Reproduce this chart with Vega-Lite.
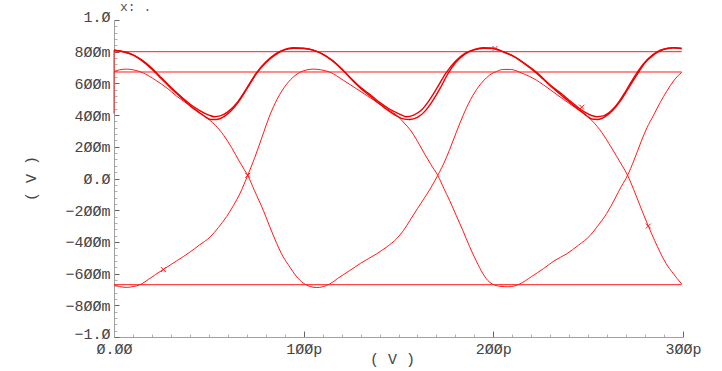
{
  "$schema": "https://vega.github.io/schema/vega-lite/v6.json",
  "width": 569,
  "height": 317,
  "autosize": {"type": "none"},
  "padding": {"left": 114, "top": 20, "right": 39, "bottom": 34},
  "background": "white",
  "config": {"view": {"stroke": null}, "font": "Liberation Mono"},
  "title": {"text": "x:  .", "anchor": "start", "frame": "group", "font": "Liberation Mono", "fontSize": 13, "fontWeight": "normal", "color": "#555", "offset": 4, "dx": 6, "dy": 9},
  "datasets": {
    "curves": [
      {"trace": "H1", "time_ps": 0, "volts": 0.8}, {"trace": "H1", "time_ps": 299.3, "volts": 0.8},
      {"trace": "H2", "time_ps": 0, "volts": 0.672}, {"trace": "H2", "time_ps": 299.3, "volts": 0.672},
      {"trace": "H3", "time_ps": 0, "volts": -0.67}, {"trace": "H3", "time_ps": 299.3, "volts": -0.67},
      {"trace": "W", "time_ps": 0, "volts": 0.81}, {"trace": "W", "time_ps": 0, "volts": 0.41},
      {"trace": "M", "time_ps": 26, "volts": -0.574}, {"trace": "M", "time_ps": 70.5, "volts": 0.02}, {"trace": "M", "time_ps": 281.7, "volts": -0.3}, {"trace": "M", "time_ps": 246.6, "volts": 0.45}, {"trace": "M", "time_ps": 200.9, "volts": 0.82},
      {"trace": "A1", "time_ps": 0, "volts": 0.81}, {"trace": "A1", "time_ps": 5, "volts": 0.8}, {"trace": "A1", "time_ps": 10, "volts": 0.78}, {"trace": "A1", "time_ps": 15, "volts": 0.745}, {"trace": "A1", "time_ps": 20, "volts": 0.695}, {"trace": "A1", "time_ps": 25, "volts": 0.635}, {"trace": "A1", "time_ps": 30, "volts": 0.575}, {"trace": "A1", "time_ps": 35, "volts": 0.52}, {"trace": "A1", "time_ps": 40, "volts": 0.47}, {"trace": "A1", "time_ps": 45, "volts": 0.43}, {"trace": "A1", "time_ps": 50, "volts": 0.4}, {"trace": "A1", "time_ps": 53, "volts": 0.39}, {"trace": "A1", "time_ps": 56, "volts": 0.395}, {"trace": "A1", "time_ps": 60, "volts": 0.42}, {"trace": "A1", "time_ps": 65, "volts": 0.48}, {"trace": "A1", "time_ps": 70, "volts": 0.57}, {"trace": "A1", "time_ps": 75, "volts": 0.665}, {"trace": "A1", "time_ps": 80, "volts": 0.735}, {"trace": "A1", "time_ps": 85, "volts": 0.785}, {"trace": "A1", "time_ps": 90, "volts": 0.815}, {"trace": "A1", "time_ps": 94.5, "volts": 0.825}, {"trace": "A1", "time_ps": 100, "volts": 0.822}, {"trace": "A1", "time_ps": 105, "volts": 0.81}, {"trace": "A1", "time_ps": 110, "volts": 0.785}, {"trace": "A1", "time_ps": 115, "volts": 0.745}, {"trace": "A1", "time_ps": 121, "volts": 0.68}, {"trace": "A1", "time_ps": 126, "volts": 0.62}, {"trace": "A1", "time_ps": 130, "volts": 0.575}, {"trace": "A1", "time_ps": 135, "volts": 0.53}, {"trace": "A1", "time_ps": 140, "volts": 0.48}, {"trace": "A1", "time_ps": 145, "volts": 0.44}, {"trace": "A1", "time_ps": 150, "volts": 0.41}, {"trace": "A1", "time_ps": 154, "volts": 0.39}, {"trace": "A1", "time_ps": 158, "volts": 0.4}, {"trace": "A1", "time_ps": 162, "volts": 0.43}, {"trace": "A1", "time_ps": 166, "volts": 0.49}, {"trace": "A1", "time_ps": 170, "volts": 0.565}, {"trace": "A1", "time_ps": 175, "volts": 0.665}, {"trace": "A1", "time_ps": 180, "volts": 0.74}, {"trace": "A1", "time_ps": 185, "volts": 0.79}, {"trace": "A1", "time_ps": 190, "volts": 0.815}, {"trace": "A1", "time_ps": 194.7, "volts": 0.825}, {"trace": "A1", "time_ps": 200, "volts": 0.822}, {"trace": "A1", "time_ps": 205, "volts": 0.8}, {"trace": "A1", "time_ps": 210, "volts": 0.775}, {"trace": "A1", "time_ps": 216, "volts": 0.73}, {"trace": "A1", "time_ps": 222.8, "volts": 0.67}, {"trace": "A1", "time_ps": 230, "volts": 0.59}, {"trace": "A1", "time_ps": 236.9, "volts": 0.525}, {"trace": "A1", "time_ps": 243, "volts": 0.465}, {"trace": "A1", "time_ps": 248, "volts": 0.42}, {"trace": "A1", "time_ps": 254.5, "volts": 0.39}, {"trace": "A1", "time_ps": 258, "volts": 0.395}, {"trace": "A1", "time_ps": 262, "volts": 0.425}, {"trace": "A1", "time_ps": 266, "volts": 0.48}, {"trace": "A1", "time_ps": 270, "volts": 0.555}, {"trace": "A1", "time_ps": 275.6, "volts": 0.665}, {"trace": "A1", "time_ps": 280, "volts": 0.735}, {"trace": "A1", "time_ps": 284, "volts": 0.78}, {"trace": "A1", "time_ps": 288, "volts": 0.81}, {"trace": "A1", "time_ps": 292, "volts": 0.822}, {"trace": "A1", "time_ps": 295, "volts": 0.825}, {"trace": "A1", "time_ps": 299.3, "volts": 0.82},
      {"trace": "A2", "time_ps": 0, "volts": 0.81}, {"trace": "A2", "time_ps": 5, "volts": 0.8}, {"trace": "A2", "time_ps": 10, "volts": 0.78}, {"trace": "A2", "time_ps": 15, "volts": 0.74}, {"trace": "A2", "time_ps": 20, "volts": 0.69}, {"trace": "A2", "time_ps": 25, "volts": 0.63}, {"trace": "A2", "time_ps": 30, "volts": 0.57}, {"trace": "A2", "time_ps": 35, "volts": 0.515}, {"trace": "A2", "time_ps": 40, "volts": 0.46}, {"trace": "A2", "time_ps": 45, "volts": 0.415}, {"trace": "A2", "time_ps": 48, "volts": 0.39}, {"trace": "A2", "time_ps": 51, "volts": 0.372}, {"trace": "A2", "time_ps": 54, "volts": 0.372}, {"trace": "A2", "time_ps": 58, "volts": 0.39}, {"trace": "A2", "time_ps": 62, "volts": 0.43}, {"trace": "A2", "time_ps": 66, "volts": 0.49}, {"trace": "A2", "time_ps": 70, "volts": 0.565}, {"trace": "A2", "time_ps": 75, "volts": 0.66}, {"trace": "A2", "time_ps": 80, "volts": 0.73}, {"trace": "A2", "time_ps": 85, "volts": 0.78}, {"trace": "A2", "time_ps": 90, "volts": 0.812}, {"trace": "A2", "time_ps": 94.5, "volts": 0.822}, {"trace": "A2", "time_ps": 100, "volts": 0.82}, {"trace": "A2", "time_ps": 105, "volts": 0.81}, {"trace": "A2", "time_ps": 110, "volts": 0.785}, {"trace": "A2", "time_ps": 115, "volts": 0.745}, {"trace": "A2", "time_ps": 121, "volts": 0.68}, {"trace": "A2", "time_ps": 126, "volts": 0.615}, {"trace": "A2", "time_ps": 130, "volts": 0.57}, {"trace": "A2", "time_ps": 135, "volts": 0.52}, {"trace": "A2", "time_ps": 140, "volts": 0.47}, {"trace": "A2", "time_ps": 145, "volts": 0.425}, {"trace": "A2", "time_ps": 149, "volts": 0.395}, {"trace": "A2", "time_ps": 152, "volts": 0.378}, {"trace": "A2", "time_ps": 156, "volts": 0.372}, {"trace": "A2", "time_ps": 160, "volts": 0.385}, {"trace": "A2", "time_ps": 164, "volts": 0.425}, {"trace": "A2", "time_ps": 168, "volts": 0.49}, {"trace": "A2", "time_ps": 172, "volts": 0.57}, {"trace": "A2", "time_ps": 176, "volts": 0.66}, {"trace": "A2", "time_ps": 180, "volts": 0.73}, {"trace": "A2", "time_ps": 185, "volts": 0.785}, {"trace": "A2", "time_ps": 190, "volts": 0.812}, {"trace": "A2", "time_ps": 194.7, "volts": 0.822}, {"trace": "A2", "time_ps": 200, "volts": 0.82}, {"trace": "A2", "time_ps": 205, "volts": 0.8}, {"trace": "A2", "time_ps": 210, "volts": 0.775}, {"trace": "A2", "time_ps": 216, "volts": 0.728}, {"trace": "A2", "time_ps": 222.8, "volts": 0.665}, {"trace": "A2", "time_ps": 230, "volts": 0.585}, {"trace": "A2", "time_ps": 236.9, "volts": 0.515}, {"trace": "A2", "time_ps": 243, "volts": 0.455}, {"trace": "A2", "time_ps": 248, "volts": 0.408}, {"trace": "A2", "time_ps": 251.9, "volts": 0.375}, {"trace": "A2", "time_ps": 255, "volts": 0.372}, {"trace": "A2", "time_ps": 259, "volts": 0.39}, {"trace": "A2", "time_ps": 263, "volts": 0.43}, {"trace": "A2", "time_ps": 267, "volts": 0.49}, {"trace": "A2", "time_ps": 271, "volts": 0.565}, {"trace": "A2", "time_ps": 276, "volts": 0.66}, {"trace": "A2", "time_ps": 280, "volts": 0.73}, {"trace": "A2", "time_ps": 284, "volts": 0.775}, {"trace": "A2", "time_ps": 288, "volts": 0.805}, {"trace": "A2", "time_ps": 292, "volts": 0.82}, {"trace": "A2", "time_ps": 295, "volts": 0.825}, {"trace": "A2", "time_ps": 299.3, "volts": 0.82},
      {"trace": "F", "time_ps": 0, "volts": 0.675}, {"trace": "F", "time_ps": 3, "volts": 0.686}, {"trace": "F", "time_ps": 6.7, "volts": 0.69}, {"trace": "F", "time_ps": 10, "volts": 0.686}, {"trace": "F", "time_ps": 15, "volts": 0.668}, {"trace": "F", "time_ps": 22, "volts": 0.62}, {"trace": "F", "time_ps": 28, "volts": 0.57}, {"trace": "F", "time_ps": 33, "volts": 0.52}, {"trace": "F", "time_ps": 40, "volts": 0.46}, {"trace": "F", "time_ps": 47, "volts": 0.4}, {"trace": "F", "time_ps": 53.5, "volts": 0.335}, {"trace": "F", "time_ps": 58, "volts": 0.27}, {"trace": "F", "time_ps": 62, "volts": 0.195}, {"trace": "F", "time_ps": 66, "volts": 0.11}, {"trace": "F", "time_ps": 68.5, "volts": 0.06}, {"trace": "F", "time_ps": 70.5, "volts": 0.02}, {"trace": "F", "time_ps": 74, "volts": -0.075}, {"trace": "F", "time_ps": 78.7, "volts": -0.2}, {"trace": "F", "time_ps": 82, "volts": -0.3}, {"trace": "F", "time_ps": 85.8, "volts": -0.41}, {"trace": "F", "time_ps": 89, "volts": -0.49}, {"trace": "F", "time_ps": 92.8, "volts": -0.56}, {"trace": "F", "time_ps": 96, "volts": -0.615}, {"trace": "F", "time_ps": 99.8, "volts": -0.66}, {"trace": "F", "time_ps": 103, "volts": -0.68}, {"trace": "F", "time_ps": 106.9, "volts": -0.688}, {"trace": "F", "time_ps": 110, "volts": -0.683}, {"trace": "F", "time_ps": 113.9, "volts": -0.665}, {"trace": "F", "time_ps": 118, "volts": -0.63}, {"trace": "F", "time_ps": 124.4, "volts": -0.58}, {"trace": "F", "time_ps": 130, "volts": -0.535}, {"trace": "F", "time_ps": 138.5, "volts": -0.475}, {"trace": "F", "time_ps": 144, "volts": -0.43}, {"trace": "F", "time_ps": 149, "volts": -0.38}, {"trace": "F", "time_ps": 152.5, "volts": -0.33}, {"trace": "F", "time_ps": 156, "volts": -0.265}, {"trace": "F", "time_ps": 160, "volts": -0.19}, {"trace": "F", "time_ps": 163, "volts": -0.135}, {"trace": "F", "time_ps": 167, "volts": -0.06}, {"trace": "F", "time_ps": 170.7, "volts": 0.02}, {"trace": "F", "time_ps": 175, "volts": 0.125}, {"trace": "F", "time_ps": 178.5, "volts": 0.23}, {"trace": "F", "time_ps": 182.4, "volts": 0.35}, {"trace": "F", "time_ps": 186, "volts": 0.45}, {"trace": "F", "time_ps": 190, "volts": 0.54}, {"trace": "F", "time_ps": 194.7, "volts": 0.615}, {"trace": "F", "time_ps": 198, "volts": 0.652}, {"trace": "F", "time_ps": 201.7, "volts": 0.675}, {"trace": "F", "time_ps": 205, "volts": 0.688}, {"trace": "F", "time_ps": 209, "volts": 0.688}, {"trace": "F", "time_ps": 215, "volts": 0.665}, {"trace": "F", "time_ps": 222.8, "volts": 0.62}, {"trace": "F", "time_ps": 230, "volts": 0.56}, {"trace": "F", "time_ps": 236.9, "volts": 0.5}, {"trace": "F", "time_ps": 244, "volts": 0.44}, {"trace": "F", "time_ps": 251, "volts": 0.377}, {"trace": "F", "time_ps": 256, "volts": 0.31}, {"trace": "F", "time_ps": 261, "volts": 0.22}, {"trace": "F", "time_ps": 265, "volts": 0.14}, {"trace": "F", "time_ps": 268, "volts": 0.08}, {"trace": "F", "time_ps": 270.8, "volts": 0.02}, {"trace": "F", "time_ps": 274, "volts": -0.07}, {"trace": "F", "time_ps": 277.3, "volts": -0.17}, {"trace": "F", "time_ps": 281.7, "volts": -0.3}, {"trace": "F", "time_ps": 285, "volts": -0.39}, {"trace": "F", "time_ps": 287.9, "volts": -0.465}, {"trace": "F", "time_ps": 291, "volts": -0.535}, {"trace": "F", "time_ps": 294.9, "volts": -0.6}, {"trace": "F", "time_ps": 297, "volts": -0.632}, {"trace": "F", "time_ps": 299.3, "volts": -0.665},
      {"trace": "R", "time_ps": 0, "volts": -0.67}, {"trace": "R", "time_ps": 3, "volts": -0.682}, {"trace": "R", "time_ps": 6.7, "volts": -0.687}, {"trace": "R", "time_ps": 10, "volts": -0.682}, {"trace": "R", "time_ps": 13.7, "volts": -0.67}, {"trace": "R", "time_ps": 18, "volts": -0.638}, {"trace": "R", "time_ps": 22, "volts": -0.605}, {"trace": "R", "time_ps": 26, "volts": -0.574}, {"trace": "R", "time_ps": 33, "volts": -0.52}, {"trace": "R", "time_ps": 40, "volts": -0.465}, {"trace": "R", "time_ps": 45, "volts": -0.42}, {"trace": "R", "time_ps": 50.6, "volts": -0.37}, {"trace": "R", "time_ps": 55, "volts": -0.31}, {"trace": "R", "time_ps": 59.4, "volts": -0.24}, {"trace": "R", "time_ps": 63, "volts": -0.17}, {"trace": "R", "time_ps": 66.4, "volts": -0.095}, {"trace": "R", "time_ps": 70.5, "volts": 0.02}, {"trace": "R", "time_ps": 74, "volts": 0.125}, {"trace": "R", "time_ps": 78, "volts": 0.26}, {"trace": "R", "time_ps": 82.2, "volts": 0.4}, {"trace": "R", "time_ps": 86, "volts": 0.5}, {"trace": "R", "time_ps": 91, "volts": 0.595}, {"trace": "R", "time_ps": 95, "volts": 0.645}, {"trace": "R", "time_ps": 98, "volts": 0.67}, {"trace": "R", "time_ps": 101.6, "volts": 0.685}, {"trace": "R", "time_ps": 105, "volts": 0.69}, {"trace": "R", "time_ps": 109, "volts": 0.686}, {"trace": "R", "time_ps": 114, "volts": 0.67}, {"trace": "R", "time_ps": 120.9, "volts": 0.62}, {"trace": "R", "time_ps": 128, "volts": 0.565}, {"trace": "R", "time_ps": 135, "volts": 0.51}, {"trace": "R", "time_ps": 142, "volts": 0.455}, {"trace": "R", "time_ps": 149, "volts": 0.4}, {"trace": "R", "time_ps": 153, "volts": 0.35}, {"trace": "R", "time_ps": 156, "volts": 0.31}, {"trace": "R", "time_ps": 160, "volts": 0.235}, {"trace": "R", "time_ps": 164, "volts": 0.15}, {"trace": "R", "time_ps": 167, "volts": 0.09}, {"trace": "R", "time_ps": 170.7, "volts": 0.02}, {"trace": "R", "time_ps": 174, "volts": -0.065}, {"trace": "R", "time_ps": 177, "volts": -0.14}, {"trace": "R", "time_ps": 180.5, "volts": -0.235}, {"trace": "R", "time_ps": 184, "volts": -0.33}, {"trace": "R", "time_ps": 187.5, "volts": -0.43}, {"trace": "R", "time_ps": 191, "volts": -0.52}, {"trace": "R", "time_ps": 194.5, "volts": -0.6}, {"trace": "R", "time_ps": 198, "volts": -0.654}, {"trace": "R", "time_ps": 203.5, "volts": -0.68}, {"trace": "R", "time_ps": 208, "volts": -0.683}, {"trace": "R", "time_ps": 214, "volts": -0.665}, {"trace": "R", "time_ps": 220, "volts": -0.62}, {"trace": "R", "time_ps": 226.3, "volts": -0.57}, {"trace": "R", "time_ps": 232, "volts": -0.52}, {"trace": "R", "time_ps": 238.7, "volts": -0.475}, {"trace": "R", "time_ps": 245, "volts": -0.42}, {"trace": "R", "time_ps": 251, "volts": -0.36}, {"trace": "R", "time_ps": 255, "volts": -0.3}, {"trace": "R", "time_ps": 259.8, "volts": -0.22}, {"trace": "R", "time_ps": 264, "volts": -0.13}, {"trace": "R", "time_ps": 267.5, "volts": -0.05}, {"trace": "R", "time_ps": 270.8, "volts": 0.02}, {"trace": "R", "time_ps": 274, "volts": 0.11}, {"trace": "R", "time_ps": 278, "volts": 0.235}, {"trace": "R", "time_ps": 281, "volts": 0.32}, {"trace": "R", "time_ps": 284.3, "volts": 0.395}, {"trace": "R", "time_ps": 288, "volts": 0.48}, {"trace": "R", "time_ps": 291.4, "volts": 0.55}, {"trace": "R", "time_ps": 295, "volts": 0.615}, {"trace": "R", "time_ps": 297.5, "volts": 0.65}, {"trace": "R", "time_ps": 299.3, "volts": 0.67}
    ]
  },
  "data": {"name": "curves"},
  "encoding": {
    "x": {
      "field": "time_ps", "type": "quantitative",
      "scale": {"domain": [0, 300], "nice": false, "zero": false},
      "axis": {
        "values": [0,10,20,30,40,50,60,70,80,90,100,110,120,130,140,150,160,170,180,190,200,210,220,230,240,250,260,270,280,290,300],
        "grid": false,
        "domainColor": "#a0a0a0",
        "tickSize": {"condition": {"test": "datum.value % 100 === 0", "value": -6}, "value": -3},
        "tickColor": {"condition": {"test": "datum.value % 100 === 0", "value": "#666666"}, "value": "#b0b0b0"},
        "labelExpr": "datum.value % 100 !== 0 ? '' : (datum.value === 0 ? 'Ø.ØØ' : replace(format(datum.value, 'd'), regexp('0', 'g'), 'Ø') + 'p')",
        "labelOverlap": false,
        "labelFlush": false,
        "labelFont": "Liberation Mono", "labelFontSize": 15, "labelColor": "#444444", "labelPadding": 10,
        "title": "( V )", "titleFont": "Liberation Mono", "titleFontSize": 15, "titleFontWeight": "normal", "titleColor": "#444444",
        "titleX": 278, "titleY": 21, "titleBaseline": "middle", "titleAlign": "center"
      }
    },
    "y": {
      "field": "volts", "type": "quantitative",
      "scale": {"domain": [-1, 1], "nice": false, "zero": false},
      "axis": {
        "values": [-1,-0.96,-0.92,-0.88,-0.84,-0.8,-0.76,-0.72,-0.68,-0.64,-0.6,-0.56,-0.52,-0.48,-0.44,-0.4,-0.36,-0.32,-0.28,-0.24,-0.2,-0.16,-0.12,-0.08,-0.04,0,0.04,0.08,0.12,0.16,0.2,0.24,0.28,0.32,0.36,0.4,0.44,0.48,0.52,0.56,0.6,0.64,0.68,0.72,0.76,0.8,0.84,0.88,0.92,0.96,1],
        "grid": false,
        "domainColor": "#a0a0a0",
        "tickSize": {"condition": {"test": "abs(datum.value*5 - round(datum.value*5)) < 0.001", "value": -5}, "value": -3},
        "tickColor": {"condition": {"test": "abs(datum.value*5 - round(datum.value*5)) < 0.001", "value": "#666666"}, "value": "#b0b0b0"},
        "labelOffset": {"condition": {"test": "abs(datum.value) > 0.999", "value": -4}, "value": 0},
        "labelExpr": "abs(datum.value*5 - round(datum.value*5)) > 0.001 ? '' : (abs(datum.value) > 0.999 ? (datum.value < 0 ? '−1.Ø' : '1.Ø') : (abs(datum.value) < 0.001 ? 'Ø.Ø' : (datum.value < 0 ? '−' : '') + replace(format(round(abs(datum.value) * 1000), 'd'), regexp('0', 'g'), 'Ø') + 'm'))",
        "labelOverlap": false,
        "labelFlush": false,
        "labelFont": "Liberation Mono", "labelFontSize": 15, "labelColor": "#444444", "labelPadding": 9,
        "title": "( V )", "titleFont": "Liberation Mono", "titleFontSize": 15, "titleFontWeight": "normal", "titleColor": "#444444",
        "titleX": -84, "titleY": 158, "titleAlign": "center", "titleBaseline": "middle"
      }
    }
  },
  "layer": [
    {
      "transform": [{"filter": "datum.trace === 'H1' || datum.trace === 'H2' || datum.trace === 'H3' || datum.trace === 'W'"}],
      "mark": {"type": "line", "color": "#ff1a1a", "strokeWidth": 1},
      "encoding": {"detail": {"field": "trace"}}
    },
    {
      "transform": [{"filter": "datum.trace === 'F' || datum.trace === 'R'"}],
      "mark": {"type": "line", "color": "#ff1a1a", "strokeWidth": 1, "interpolate": "monotone"},
      "encoding": {"detail": {"field": "trace"}}
    },
    {
      "transform": [{"filter": "datum.trace === 'A1' || datum.trace === 'A2'"}],
      "mark": {"type": "line", "color": "#f00000", "strokeWidth": 1.4, "interpolate": "monotone"},
      "encoding": {"detail": {"field": "trace"}}
    },
    {
      "transform": [{"filter": "datum.trace === 'M'"}],
      "mark": {"type": "point", "shape": "M-1,-1L1,1M-1,1L1,-1", "filled": false, "color": "#ff1a1a", "size": 25, "strokeWidth": 1, "opacity": 1},
      "encoding": {}
    }
  ]
}
